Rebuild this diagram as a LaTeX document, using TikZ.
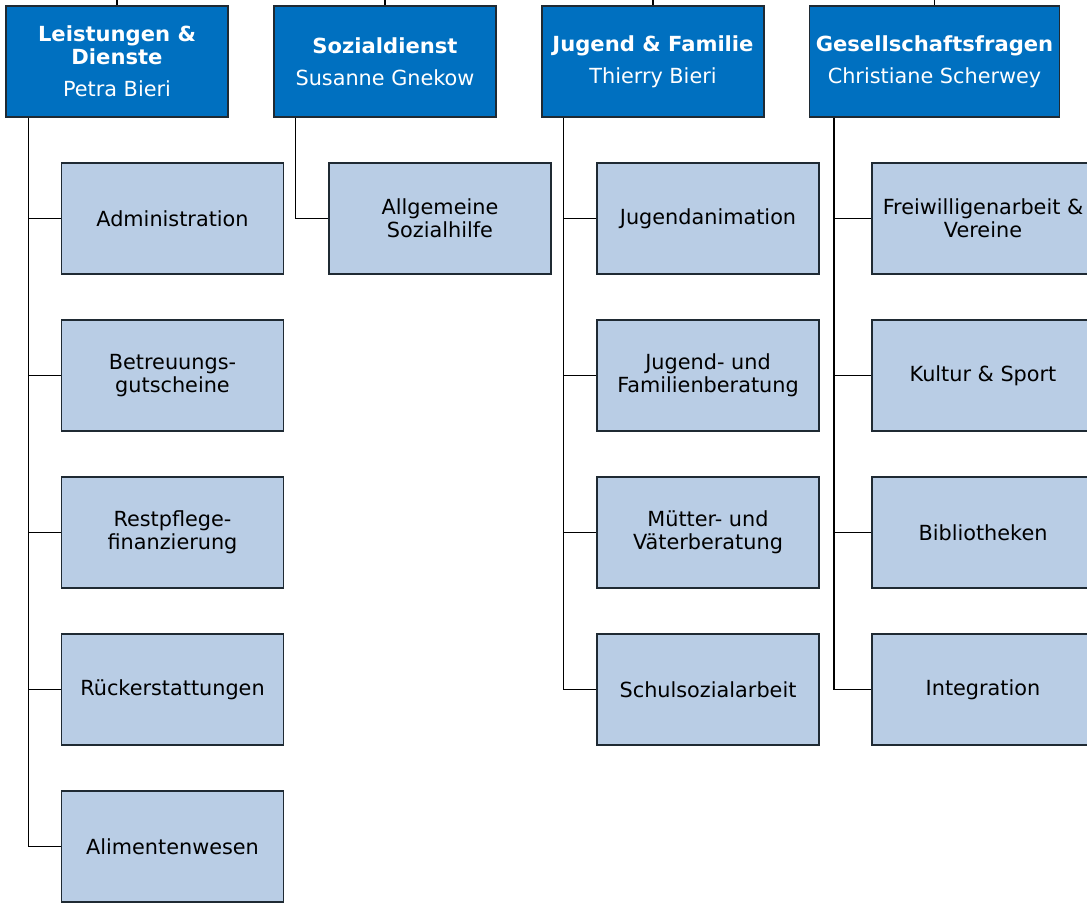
\documentclass[tikz,border=0pt]{standalone}
\usepackage{fontspec}
\setmainfont{DejaVu Sans}
\newfontface\headbold{DejaVu Sans Bold}[FakeStretch=1.015]
\definecolor{headblue}{HTML}{0070C0}
\definecolor{childblue}{HTML}{B9CDE5}
\definecolor{boxline}{HTML}{1F2A33}
\begin{document}
\begin{tikzpicture}[x=1pt,y=-1pt,
  every node/.style={font=\fontsize{20.8}{23.3}\selectfont, align=center, inner sep=0pt},
  headbox/.style={draw=boxline, line width=1.2pt, fill=headblue, text=white, minimum width=222pt, minimum height=111pt},
  childbox/.style={draw=boxline, line width=1.2pt, fill=childblue, text=black, minimum width=222pt, minimum height=111pt},
  link/.style={draw=black, line width=1.3pt}]
\useasboundingbox (0,0) rectangle (1087,903);
\clip (0,0) rectangle (1087,903);
% heads
\node[headbox] (h1) at (117,61.5) {{\headbold Leistungen \&}\\{\headbold Dienste}\\[8.7pt]Petra Bieri};
\node[headbox] (h2) at (385,61.5) {{\headbold Sozialdienst}\\[8.7pt]Susanne Gnekow};
\node[headbox] (h3) at (653,61.5) {{\headbold Jugend \& Familie}\\[8.7pt]Thierry Bieri};
\node[headbox, minimum width=250pt] (h4) at (934.5,61.5) {{\headbold Gesellschaftsfragen}\\[8.7pt]Christiane Scherwey};
% parent links
\coordinate (p1) at (117,0);
\coordinate (p2) at (385,0);
\coordinate (p3) at (653,0);
\coordinate (p4) at (934.5,0);
\foreach \i in {1,2,3,4} \draw[link] (p\i) -- (h\i.north);
% column 1
\node[childbox] (c11) at (172.5,218.5) {Administration};
\node[childbox] (c12) at (172.5,375.5) {Betreuungs-\\gutscheine};
\node[childbox] (c13) at (172.5,532.5) {Restpflege-\\finanzierung};
\node[childbox] (c14) at (172.5,689.5) {Rückerstattungen};
\node[childbox] (c15) at (172.5,846.5) {Alimentenwesen};
% column 2
\node[childbox] (c21) at (440,218.5) {Allgemeine\\Sozialhilfe};
% column 3
\node[childbox] (c31) at (708,218.5) {Jugendanimation};
\node[childbox] (c32) at (708,375.5) {Jugend- und\\Familienberatung};
\node[childbox] (c33) at (708,532.5) {Mütter- und\\Väterberatung};
\node[childbox] (c34) at (708,689.5) {Schulsozialarbeit};
% column 4
\node[childbox] (c41) at (983,218.5) {Freiwilligenarbeit \&\\Vereine};
\node[childbox] (c42) at (983,375.5) {Kultur \& Sport};
\node[childbox] (c43) at (983,532.5) {Bibliotheken};
\node[childbox] (c44) at (983,689.5) {Integration};
% trunks
\coordinate (t1) at ([xshift=23pt]h1.south west);
\coordinate (t2) at ([xshift=22pt]h2.south west);
\coordinate (t3) at ([xshift=22pt]h3.south west);
\coordinate (t4) at ([xshift=25pt]h4.south west);
\draw[link] (t1) |- (c15.west);
\foreach \k in {1,2,3,4} \draw[link] (t1 |- c1\k.west) -- (c1\k.west);
\draw[link] (t2) |- (c21.west);
\draw[link] (t3) |- (c34.west);
\foreach \k in {1,2,3} \draw[link] (t3 |- c3\k.west) -- (c3\k.west);
\draw[link] (t4) |- (c44.west);
\foreach \k in {1,2,3} \draw[link] (t4 |- c4\k.west) -- (c4\k.west);
\end{tikzpicture}
\end{document}
